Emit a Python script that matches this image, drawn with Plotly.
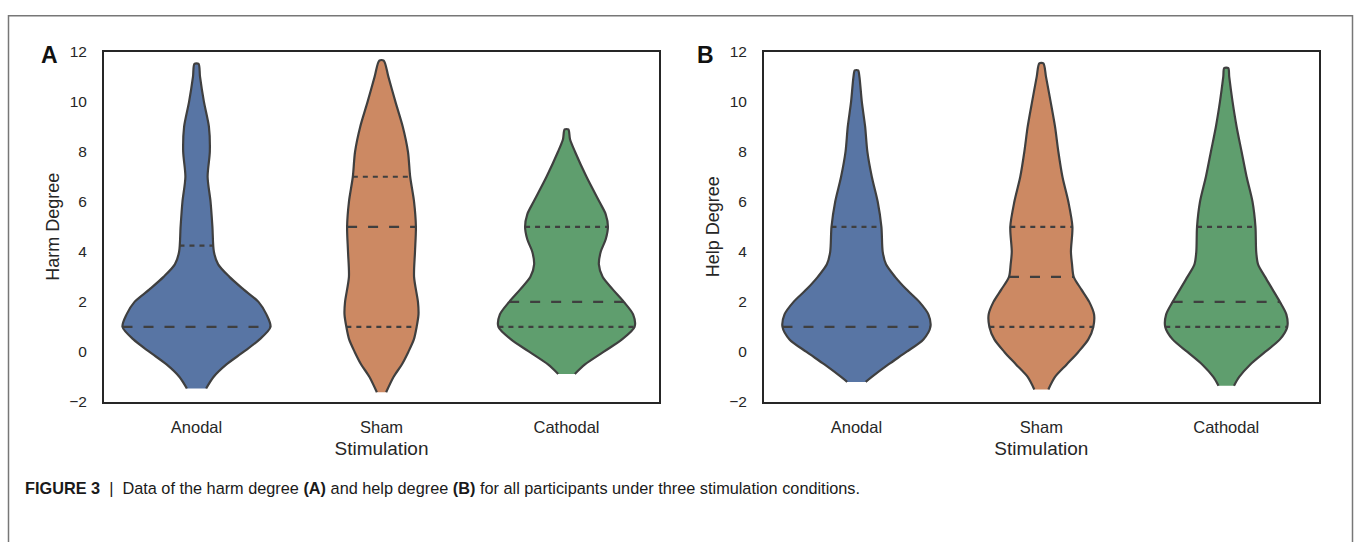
import numpy as np
import plotly.graph_objects as go

categories = ["Anodal", "Sham", "Cathodal"]
colors = ["#5875a4", "#cc8963", "#5f9e6e"]

# ---- Panel A: Harm degree -- violin outlines (value level, half-width in category units)
harm_anodal_y = [-1.46, -1, -0.5, 0, 0.5, 1, 1.5, 2, 2.5, 3, 3.5, 4, 5, 6, 7, 8, 9, 10, 11, 11.51]
harm_anodal_w = [0.052, 0.092, 0.162, 0.254, 0.341, 0.40, 0.378, 0.335, 0.254, 0.178, 0.117, 0.094,
                 0.086, 0.076, 0.060, 0.072, 0.067, 0.040, 0.019, 0.011]
harm_sham_y = [-1.61, -1, -0.5, 0, 0.5, 1, 1.5, 2, 3, 4, 5, 6, 7, 8, 9, 10, 11, 11.64]
harm_sham_w = [0.025, 0.065, 0.11, 0.145, 0.175, 0.19, 0.2, 0.197, 0.176, 0.181, 0.186, 0.176,
               0.155, 0.143, 0.115, 0.075, 0.037, 0.012]
harm_cathodal_y = [-0.88, -0.5, 0, 0.5, 1, 1.5, 2, 2.5, 3, 3.5, 4, 4.5, 5, 5.5, 6, 7, 8, 8.5, 8.89]
harm_cathodal_w = [0.045, 0.1, 0.2, 0.3, 0.368, 0.36, 0.31, 0.25, 0.195, 0.175, 0.185, 0.212,
                   0.224, 0.212, 0.178, 0.108, 0.046, 0.019, 0.010]
harm_q1 = [1, 1, 1]
harm_median = [1, 5, 2]
harm_q3 = [4.25, 7, 5]

# ---- Panel B: Help degree
help_anodal_y = [-1.2, -1, -0.5, 0, 0.5, 1, 1.5, 2, 2.5, 3, 3.5, 4, 5, 6, 7, 8, 9, 10, 11, 11.25]
help_anodal_w = [0.05, 0.083, 0.173, 0.27, 0.362, 0.40, 0.389, 0.34, 0.27, 0.209, 0.16, 0.142,
                 0.135, 0.115, 0.083, 0.059, 0.047, 0.029, 0.016, 0.009]
help_sham_y = [-1.5, -1, -0.5, 0, 0.5, 1, 1.5, 2, 2.5, 3, 3.5, 4, 5, 6, 7, 8, 9, 10, 11, 11.53]
help_sham_w = [0.038, 0.074, 0.137, 0.20, 0.254, 0.281, 0.285, 0.259, 0.216, 0.175, 0.166, 0.16,
               0.168, 0.146, 0.114, 0.092, 0.074, 0.050, 0.025, 0.011]
help_cathodal_y = [-1.35, -1, -0.5, 0, 0.5, 1, 1.5, 2, 2.5, 3, 3.5, 4, 5, 6, 7, 8, 9, 10, 11, 11.34]
help_cathodal_w = [0.042, 0.07, 0.13, 0.21, 0.29, 0.33, 0.325, 0.29, 0.25, 0.21, 0.172, 0.162,
                   0.158, 0.142, 0.11, 0.083, 0.056, 0.034, 0.016, 0.011]
help_q1 = [1, 1, 1]
help_median = [1, 3, 2]
help_q3 = [5, 5, 5]

y_ticks = [-2, 0, 2, 4, 6, 8, 10, 12]

panels = [
    dict(xa="x", ya="y",
         shapes=[(harm_anodal_y, harm_anodal_w), (harm_sham_y, harm_sham_w), (harm_cathodal_y, harm_cathodal_w)],
         q1=harm_q1, med=harm_median, q3=harm_q3),
    dict(xa="x2", ya="y2",
         shapes=[(help_anodal_y, help_anodal_w), (help_sham_y, help_sham_w), (help_cathodal_y, help_cathodal_w)],
         q1=help_q1, med=help_median, q3=help_q3),
]

EDGE = "#3f3f3f"
fig = go.Figure()
for p in panels:
    for i, (ys, ws) in enumerate(p["shapes"]):
        ys = np.asarray(ys, float)
        ws = np.asarray(ws, float)
        X = np.concatenate([i + ws, (i - ws)[::-1]])
        Y = np.concatenate([ys, ys[::-1]])
        fig.add_trace(go.Scatter(
            x=X, y=Y, mode="lines", fill="toself", fillcolor=colors[i],
            line=dict(color=EDGE, width=2.2, shape="spline", smoothing=0.8),
            xaxis=p["xa"], yaxis=p["ya"], showlegend=False, hoverinfo="skip"))
        med = p["med"][i]
        lines = [(med, "10px,11px")]
        for q in (p["q1"][i], p["q3"][i]):
            if q != med:
                lines.append((q, "5px,5px"))
        for q, dash in lines:
            hw = float(np.interp(q, ys, ws))
            fig.add_trace(go.Scatter(
                x=[i - hw, i + hw], y=[q, q], mode="lines",
                line=dict(color=EDGE, width=2.2, dash=dash),
                xaxis=p["xa"], yaxis=p["ya"], showlegend=False, hoverinfo="skip"))

W, H = 1354, 542
FONT = "Liberation Sans, Arial, sans-serif"
TXT = "#262626"

def xaxis_cfg(dom):
    return dict(domain=dom, range=[-0.5, 2.5], tickvals=[0, 1, 2], ticktext=categories,
                showline=True, mirror=True, linecolor="#262626", linewidth=2,
                showgrid=False, zeroline=False, ticks="outside", ticklen=9,
                tickcolor="rgba(0,0,0,0)", tickfont=dict(size=16.5, color=TXT),
                title=dict(text="Stimulation", font=dict(size=19, color=TXT), standoff=7))

def yaxis_cfg(title, anchor):
    return dict(domain=[(H - 405.7) / H, (H - 44) / H], range=[-2, 12], tickvals=y_ticks,
                showline=True, mirror=True, linecolor="#262626", linewidth=2,
                showgrid=False, zeroline=False, ticks="outside", ticklen=12,
                tickcolor="rgba(0,0,0,0)", tickfont=dict(size=15.5, color=TXT), anchor=anchor,
                title=dict(text=title, font=dict(size=18, color=TXT), standoff=5))

NB = "\u00a0"
caption = ("<b>FIGURE 3</b>" + NB + NB + "|" + NB + NB +
           "Data of the harm degree <b>(A)</b> and help degree <b>(B)</b> "
           "for all participants under three stimulation conditions.")

fig.update_layout(
    width=W, height=H, margin=dict(l=0, r=0, t=0, b=0),
    paper_bgcolor="white", plot_bgcolor="white",
    font=dict(family=FONT, color=TXT),
    xaxis=xaxis_cfg([104 / W, 659 / W]),
    xaxis2=dict(xaxis_cfg([764 / W, 1318.7 / W]), anchor="y2"),
    yaxis=yaxis_cfg("Harm Degree", "x"),
    yaxis2=yaxis_cfg("Help Degree", "x2"),
    shapes=[dict(type="rect", xref="paper", yref="paper",
                 x0=8.5 / W, x1=1352.5 / W, y0=-0.2, y1=1 - 7 / H,
                 line=dict(color="#777777", width=1.5), fillcolor="rgba(0,0,0,0)", layer="below")],
    annotations=[
        dict(text="<b>A</b>", x=49 / W, y=1 - 47.5 / H, xref="paper", yref="paper",
             xanchor="center", yanchor="middle", showarrow=False,
             font=dict(size=23, color="#111111", family=FONT)),
        dict(text="<b>B</b>", x=705 / W, y=1 - 47.5 / H, xref="paper", yref="paper",
             xanchor="center", yanchor="middle", showarrow=False,
             font=dict(size=23, color="#111111", family=FONT)),
        dict(text=caption,
             x=23 / W, y=1 - 495 / H, xref="paper", yref="paper",
             xanchor="left", yanchor="middle", showarrow=False,
             font=dict(size=16.3, color="#1a1a1a", family=FONT)),
    ],
)

fig.write_html("out.html")
